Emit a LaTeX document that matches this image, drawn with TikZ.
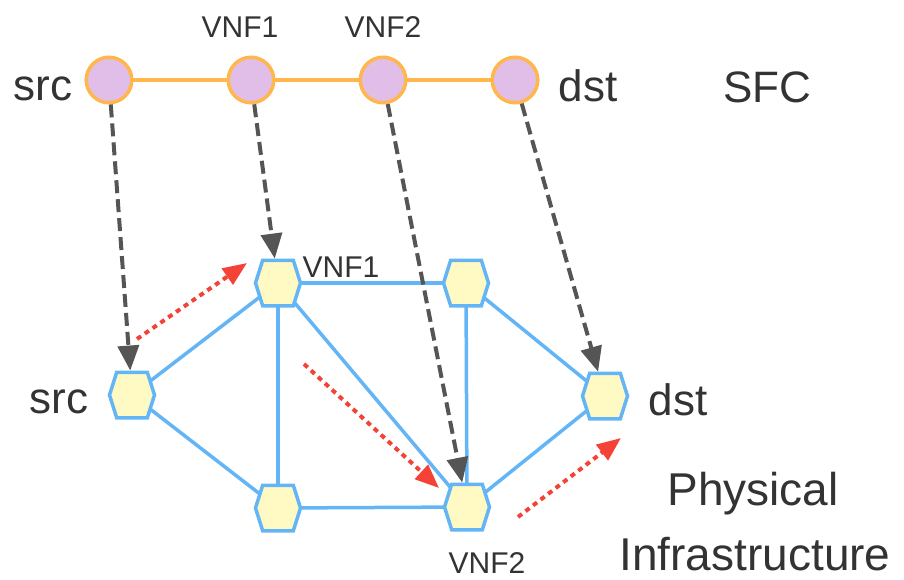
\documentclass[tikz,border=0pt]{standalone}
\usepackage{fontspec}
\setmainfont{Liberation Sans}
\usetikzlibrary{arrows.meta,shapes.symbols}
\definecolor{corange}{HTML}{FFB74D}
\definecolor{clav}{HTML}{E1BEE7}
\definecolor{cblue}{HTML}{64B5F6}
\definecolor{cyel}{HTML}{FFF9C4}
\definecolor{cred}{HTML}{F44336}
\definecolor{cgray}{HTML}{555555}
\definecolor{ctext}{HTML}{333333}
\pgfdeclarelayer{bg}
\pgfsetlayers{bg,main}
\tikzset{
  sfcnode/.style={circle, draw=corange, fill=clav, line width=3.5pt, minimum size=45.5pt, inner sep=0pt},
  hexnode/.style={signal, signal to=east and west, signal pointer angle=145, draw=cblue, fill=cyel, line width=3.5pt, minimum width=45pt, minimum height=45.5pt, inner sep=0pt},
  sfcedge/.style={draw=corange, line width=3.5pt},
  physedge/.style={draw=cblue, line width=3.5pt},
  mapedge/.style={draw=cgray, line width=4pt, dash pattern=on 13pt off 6pt, -{Triangle[length=25pt,width=21pt]}},
  flowedge/.style={draw=cred, line width=4pt, dash pattern=on 5pt off 4.5pt, -{Triangle[length=24pt,width=19pt]}},
  biglab/.style={text=ctext, font=\fontsize{44}{52}\selectfont, inner sep=0pt, anchor=base},
  infralab/.style={text=ctext, font=\fontsize{46}{54}\selectfont, inner sep=0pt, anchor=base},
  smalllab/.style={text=ctext, font=\fontsize{30}{36}\selectfont, inner sep=0pt, anchor=base},
}
\begin{document}
\begin{tikzpicture}[x=1pt,y=-1pt]
\useasboundingbox (0,0) rectangle (904,579);
% SFC row
\node[sfcnode] (s1) at (109,80) {};
\node[sfcnode] (s2) at (251,80) {};
\node[sfcnode] (s3) at (383,80) {};
\node[sfcnode] (s4) at (515,80) {};
% physical nodes
\node[hexnode] (hsrc) at (132,395) {};
\node[hexnode] (hv1) at (278,283) {};
\node[hexnode] (htr) at (466,283) {};
\node[hexnode] (hdst) at (605,396) {};
\node[hexnode] (hbl) at (278,508) {};
\node[hexnode] (hv2) at (467,507) {};
\begin{pgfonlayer}{bg}
\draw[sfcedge] (s1.center) -- (s2.center);
\draw[sfcedge] (s2.center) -- (s3.center);
\draw[sfcedge] (s3.center) -- (s4.center);
\draw[physedge] (hsrc.center) -- (hv1.center);
\draw[physedge] (hsrc.center) -- (hbl.center);
\draw[physedge] (hv1.center) -- (htr.center);
\draw[physedge] (hv1.center) -- (hbl.center);
\draw[physedge] (hv1.center) -- (hv2.center);
\draw[physedge] (htr.center) -- (hv2.center);
\draw[physedge] (htr.center) -- (hdst.center);
\draw[physedge] (hbl.center) -- (hv2.center);
\draw[physedge] (hv2.center) -- (hdst.center);
\end{pgfonlayer}
% mapping arrows
\draw[mapedge] (s1) -- (hsrc);
\draw[mapedge] (s2) -- (hv1);
\draw[mapedge] (s3) -- (hv2);
\draw[mapedge] (s4) -- (hdst);
% flow arrows
\coordinate (f1a) at (137,339);
\coordinate (f1b) at (247,263);
\coordinate (f2a) at (304,364);
\coordinate (f2b) at (439,488);
\coordinate (f3a) at (518,517);
\coordinate (f3b) at (621,438);
\draw[flowedge] (f1a) -- (f1b);
\draw[flowedge] (f2a) -- (f2b);
\draw[flowedge] (f3a) -- (f3b);
% labels
\node[biglab] (lsrc1) at (43,100) {src};
\node[biglab] (ldst1) at (588,101) {dst};
\node[biglab] (lsfc) at (767,102) {SFC};
\node[smalllab] (lv1t) at (240,37) {VNF1};
\node[smalllab] (lv2t) at (383,37) {VNF2};
\node[smalllab] (lv1p) at (341,277) {VNF1};
\node[smalllab] (lv2p) at (487,573) {VNF2};
\node[biglab] (lsrc2) at (59,413) {src};
\node[biglab] (ldst2) at (678,415) {dst};
\node[infralab] (lphy) at (753,505) {Physical};
\node[infralab] (linf) at (755,570) {Infrastructure};
\end{tikzpicture}
\end{document}
